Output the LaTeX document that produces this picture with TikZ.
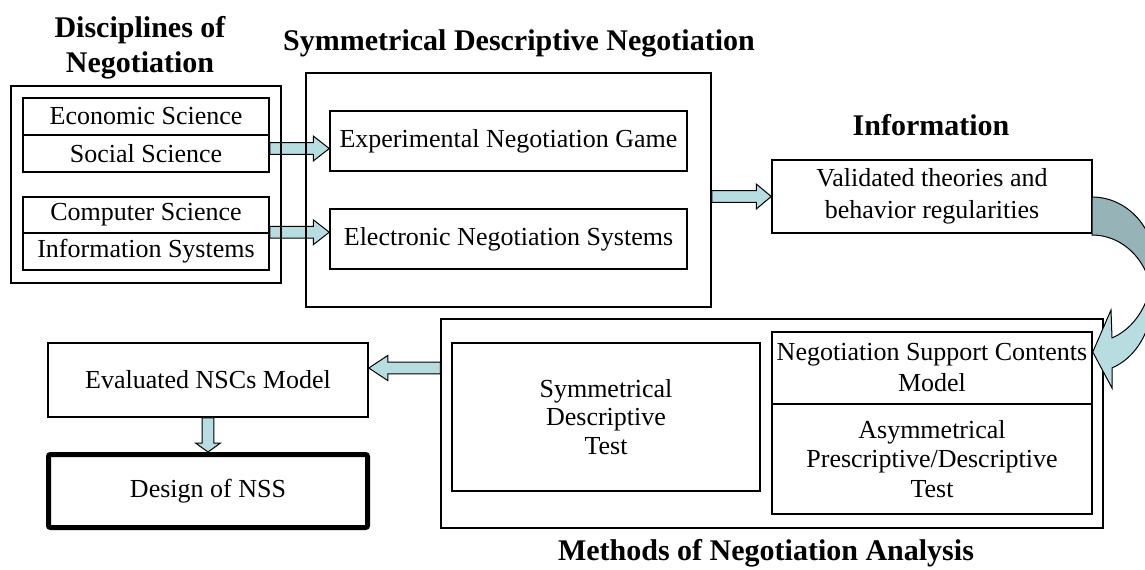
\documentclass[tikz,border=0pt]{standalone}
\usepackage{fontspec}
\setmainfont{Liberation Serif}
\usetikzlibrary{calc,backgrounds}
\definecolor{arrowfill}{HTML}{B7DDE0}
\definecolor{arrowback}{HTML}{96B4B8}
% block arrow: #1 head length, #2 tail coordinate, #3 tip coordinate
\newcommand\blockarrow[3][8pt]{%
  \draw[barrow] ($(#2)!2.9pt!90:(#3)$) -- ($(#3)!#1!(#2)!2.9pt!90:(#3)$)
    -- ($(#3)!#1!(#2)!6.25pt!90:(#3)$) -- (#3)
    -- ($(#3)!#1!(#2)!6.25pt!-90:(#3)$) -- ($(#3)!#1!(#2)!2.9pt!-90:(#3)$)
    -- ($(#2)!2.9pt!-90:(#3)$) -- cycle;}
\begin{document}
\begin{tikzpicture}[x=0.5pt,y=-0.5pt,
  box/.style={draw,line width=0.75pt,inner sep=1pt,align=center,
    font=\fontsize{13}{15.5}\selectfont},
  heading/.style={font=\fontsize{15}{17}\selectfont\bfseries,anchor=base,inner sep=0pt},
  barrow/.style={draw,line width=0.5pt,fill=arrowfill,line join=miter}]
\useasboundingbox (0,0) rectangle (1145,569);

% headings
\node[heading] (hdisc1) at (140,37) {Disciplines of};
\node[heading] (hdisc2) at (140,72) {Negotiation};
\node[heading] (hsdn) at (519,50) {Symmetrical Descriptive Negotiation};
\node[heading] (hinfo) at (931,135) {Information};
\node[heading] (hmeth) at (766,560) {Methods of Negotiation Analysis};

% disciplines of negotiation
\node[box,minimum width=135pt,minimum height=98.5pt] (disc) at (146,184.5) {};
\node[box,minimum width=123pt,minimum height=18.5pt] (econ) at (146,116.5) {Economic Science};
\node[box,minimum width=123pt,minimum height=18.5pt] (soc) at (146,153.5) {Social Science};
\node[box,minimum width=123pt,minimum height=18pt] (comp) at (146,215) {Computer Science};
\node[box,minimum width=123pt,minimum height=18.5pt] (infs) at (146,251.5) {Information Systems};

% symmetrical descriptive negotiation
\node[box,minimum width=202.5pt,minimum height=117pt] (sdn) at (508.5,190) {};
\node[box,minimum width=178.5pt,minimum height=30pt] (eng) at (508.5,141) {Experimental Negotiation Game};
\node[box,minimum width=178.5pt,minimum height=30pt] (ens) at (508.5,239) {Electronic Negotiation Systems};

% information
\node[box,minimum width=160pt,minimum height=36.5pt,font=\fontsize{13}{16}\selectfont] (vtbr) at (932,196.5)
  {Validated theories and\\behavior regularities};

% methods of negotiation analysis
\node[box,minimum width=331pt,minimum height=104.5pt] (meth) at (772,423.5) {};
\node[box,minimum width=154pt,minimum height=74pt,font=\fontsize{13}{14.3}\selectfont] (sdt) at (606,417)
  {Symmetrical\\Descriptive\\Test};
\node[box,minimum width=160pt,minimum height=36pt] (nsc) at (932,368)
  {Negotiation Support Contents\\Model};
\node[box,minimum width=160pt,minimum height=55pt,font=\fontsize{13}{14.8}\selectfont] (asym) at (932,459)
  {Asymmetrical\\Prescriptive/Descriptive\\Test};

% results
\node[box,minimum width=160pt,minimum height=37pt] (ensc) at (208,380) {Evaluated NSCs Model};
\node[box,line width=2.5pt,rounded corners=1pt,minimum width=159.5pt,minimum height=36.5pt] (dns) at (208,491) {Design of NSS};

% connector end points
\path (soc.east) ++(0,-5) coordinate (a1s);
\coordinate (a1e) at (a1s -| eng.west);
\coordinate (a2s) at (infs.north east);
\coordinate (a2e) at (a2s -| ens.west);
\coordinate (a3e) at (vtbr.west);
\coordinate (a3s) at (a3e -| sdn.east);
\path (ensc.east) ++(0,-12) coordinate (a4e);
\coordinate (a4s) at (a4e -| meth.west);
\coordinate (a5s) at (ensc.south);
\coordinate (a5e) at (ensc.south |- dns.north);

\begin{scope}[on background layer]
  \blockarrow{a1s}{a1e}
  \blockarrow{a2s}{a2e}
\end{scope}
\blockarrow[7.5pt]{a3s}{a3e}
\blockarrow[9.5pt]{a4s}{a4e}
\blockarrow[4.5pt]{a5s}{a5e}

% curved arrow from the information box down to the contents model
\begin{scope}
  \clip (0,0) rectangle (1145,569);
  \draw[line width=0.5pt,fill=arrowback,line join=miter]
    plot[domain=90:15,samples=40] ({1092+63*cos(\x)},{265-68*sin(\x)})
    -- plot[domain=15:90,samples=40] ({1092+60*cos(\x)},{301-66*sin(\x)}) -- cycle;
  \draw[line width=0.5pt,fill=arrowfill,line join=miter]
    plot[domain=-70.53:-15,samples=40] ({1092+60*cos(\x)},{270-72*sin(\x)})
    -- plot[domain=-15:-70.53,samples=40] ({1092+60*cos(\x)},{300-72*sin(\x)})
    -- (1112,388) -- (nsc.east |- 0,352) -- (1111,310) -- cycle;
\end{scope}
\end{tikzpicture}
\end{document}
